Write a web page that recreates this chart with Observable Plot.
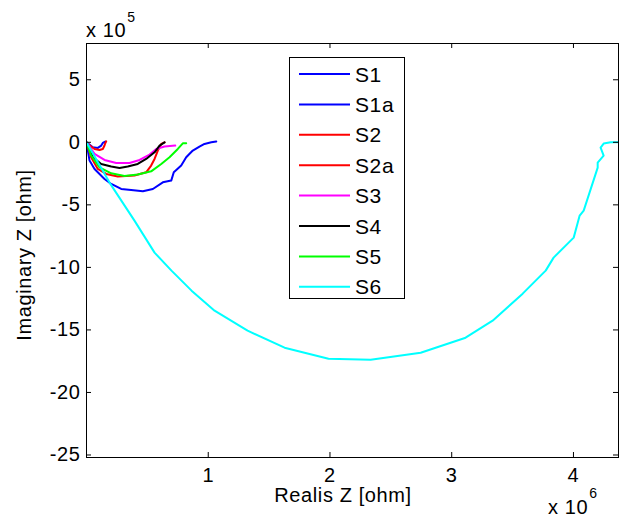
<!DOCTYPE html>
<html><head><meta charset="utf-8">
<script src="https://cdn.jsdelivr.net/npm/d3@7"></script>
<script src="https://cdn.jsdelivr.net/npm/@observablehq/plot@0.6"></script>
<style>
body{margin:0;background:#fff;}
#chart svg{font-family:"Liberation Sans",Arial,sans-serif;}
#chart svg text{letter-spacing:0.6px;}
</style></head><body><div id="chart"></div>
<script>
// Real part in units of 10^6 ohm, imaginary part in units of 10^5 ohm
const seriesNames = ["S1","S1a","S2","S2a","S3","S4","S5","S6"];
const seriesColors = ["#0000ff","#0000ff","#ff0000","#ff0000","#ff00ff","#000000","#00ff00","#00ffff"];

const s1Re  = [0, 0.011, 0.052, 0.093, 0.121, 0.134, 0.154];
const s1Im  = [0, -0.08, -0.40, -0.45, -0.26, -0.05, 0.06];
const s1aRe = [0, 0.025, 0.066, 0.148, 0.203, 0.285, 0.367, 0.463, 0.545, 0.627, 0.696, 0.717, 0.778, 0.819, 0.873, 0.928, 0.969, 1.025, 1.066];
const s1aIm = [0, -1.46, -2.13, -2.93, -3.33, -3.73, -3.81, -3.92, -3.73, -3.20, -3.06, -2.40, -1.86, -1.20, -0.66, -0.34, -0.13, 0, 0.06];
const s2Re  = [0, 0.011, 0.066, 0.107, 0.134, 0.148, 0.154, 0.162];
const s2Im  = [0, -0.13, -0.53, -0.61, -0.53, -0.26, -0.08, 0.08];
const s2aRe = [0, 0.038, 0.093, 0.162, 0.257, 0.394, 0.490, 0.531, 0.559, 0.586, 0.614, 0.641];
const s2aIm = [0, -1.20, -2.13, -2.53, -2.74, -2.66, -2.40, -1.86, -1.33, -0.66, -0.13, 0];
const s3Re  = [0, 0.066, 0.148, 0.244, 0.353, 0.436, 0.518, 0.573, 0.641, 0.729];
const s3Im  = [0, -0.93, -1.41, -1.65, -1.65, -1.41, -0.98, -0.53, -0.34, -0.26];
const s4Re  = [0, 0.052, 0.121, 0.203, 0.271, 0.339, 0.421, 0.490, 0.559, 0.600, 0.641];
const s4Im  = [0, -1.20, -1.73, -1.94, -2.05, -1.94, -1.73, -1.33, -0.80, -0.26, 0];
const s5Re  = [0, 0.038, 0.107, 0.203, 0.312, 0.421, 0.531, 0.614, 0.682, 0.750, 0.791, 0.819];
const s5Im  = [0, -1.06, -2.00, -2.48, -2.69, -2.58, -2.32, -1.73, -1.20, -0.53, -0.08, -0.08];
const s6Re  = [0, 0.189, 0.394, 0.559, 0.698, 0.863, 1.052, 1.323, 1.627, 1.988, 2.334, 2.745, 3.114, 3.336, 3.583, 3.772, 3.837, 4.002, 4.051, 4.084, 4.199, 4.199, 4.248, 4.223, 4.248, 4.306, 4.371];
const s6Im  = [0, -3.22, -6.26, -8.82, -10.26, -11.86, -13.46, -15.06, -16.42, -17.30, -17.38, -16.82, -15.62, -14.26, -12.10, -10.26, -9.22, -7.62, -5.86, -5.46, -2.02, -1.62, -1.06, -0.42, -0.10, 0, 0];

const xTicks = [1, 2, 3, 4];
const yTicks = [5, 0, -5, -10, -15, -20, -25];
const xLabel = "Realis Z [ohm]";
const yLabel = "Imaginary Z [ohm]";
const xExponent = "6";
const yExponent = "5";

const seriesRe = [s1Re, s1aRe, s2Re, s2aRe, s3Re, s4Re, s5Re, s6Re];
const seriesIm = [s1Im, s1aIm, s2Im, s2aIm, s3Im, s4Im, s5Im, s6Im];
const rows = seriesNames.flatMap((name, i) => seriesRe[i].map((re, j) => ({series: name, re, im: seriesIm[i][j]})));

const W = 619, H = 521, mL = 86, mR = 1, mT = 43, mB = 64;
const fs = 20;

const plot = Plot.plot({
  width: W, height: H,
  marginLeft: mL, marginRight: mR, marginTop: mT, marginBottom: mB,
  style: {fontSize: fs + "px", fontFamily: '"Liberation Sans", Arial, sans-serif', color: "#000", background: "#fff"},
  x: {domain: [0, 4.37]},
  y: {domain: [-25.2, 7.9]},
  color: {domain: seriesNames, range: seriesColors},
  marks: [
    Plot.line(rows, {x: "re", y: "im", z: "series", stroke: "series", strokeWidth: 2, clip: true}),
    Plot.tickX(xTicks, {x: d => d, insetTop: H - mT - mB - 5, stroke: "#000"}),
    Plot.tickX(xTicks, {x: d => d, insetBottom: H - mT - mB - 5, stroke: "#000"}),
    Plot.tickY(yTicks, {y: d => d, insetRight: W - mL - mR - 5, stroke: "#000"}),
    Plot.tickY(yTicks, {y: d => d, insetLeft: W - mL - mR - 5, stroke: "#000"}),
    Plot.axisX(xTicks, {anchor: "bottom", tickSize: 0, tickPadding: 10, tickFormat: d => String(d), label: null}),
    Plot.axisY(yTicks, {anchor: "left", tickSize: 0, tickPadding: 6, tickFormat: d => String(d), label: null}),
    Plot.frame({stroke: "#000"})
  ]
});
document.getElementById("chart").appendChild(plot);

const svg = d3.select(plot);
function txt(x, y, s, size, anchor) {
  return svg.append("text").attr("x", x).attr("y", y).attr("text-anchor", anchor || "start")
    .style("font-size", size + "px").attr("fill", "#000").text(s);
}
// axis labels
txt(343, 502, xLabel, fs, "middle");
svg.append("text").attr("transform", "translate(31,255) rotate(-90)").attr("text-anchor", "middle")
  .style("font-size", fs + "px").attr("fill", "#000").text(yLabel);
// exponents
const e1 = txt(86, 37, "x 10", fs);
txt(86 + e1.node().getComputedTextLength() + 1, 22, yExponent, 14);
const e2 = txt(548, 514, "x 10", fs);
txt(548 + e2.node().getComputedTextLength() + 1, 498, xExponent, 14);

// legend
const lg = svg.append("g");
lg.append("rect").attr("x", 289.5).attr("y", 57.5).attr("width", 115).attr("height", 241)
  .attr("fill", "#fff").attr("stroke", "#000");
seriesNames.forEach((name, i) => {
  const cy = 74 + i * 30.4;
  lg.append("line").attr("x1", 299).attr("x2", 350).attr("y1", cy).attr("y2", cy)
    .attr("stroke", seriesColors[i]).attr("stroke-width", 2);
  lg.append("text").attr("x", 355).attr("y", cy).attr("dy", "0.36em").attr("text-anchor", "start")
    .style("font-size", "21px").attr("fill", "#000").text(name);
});
</script></body></html>
